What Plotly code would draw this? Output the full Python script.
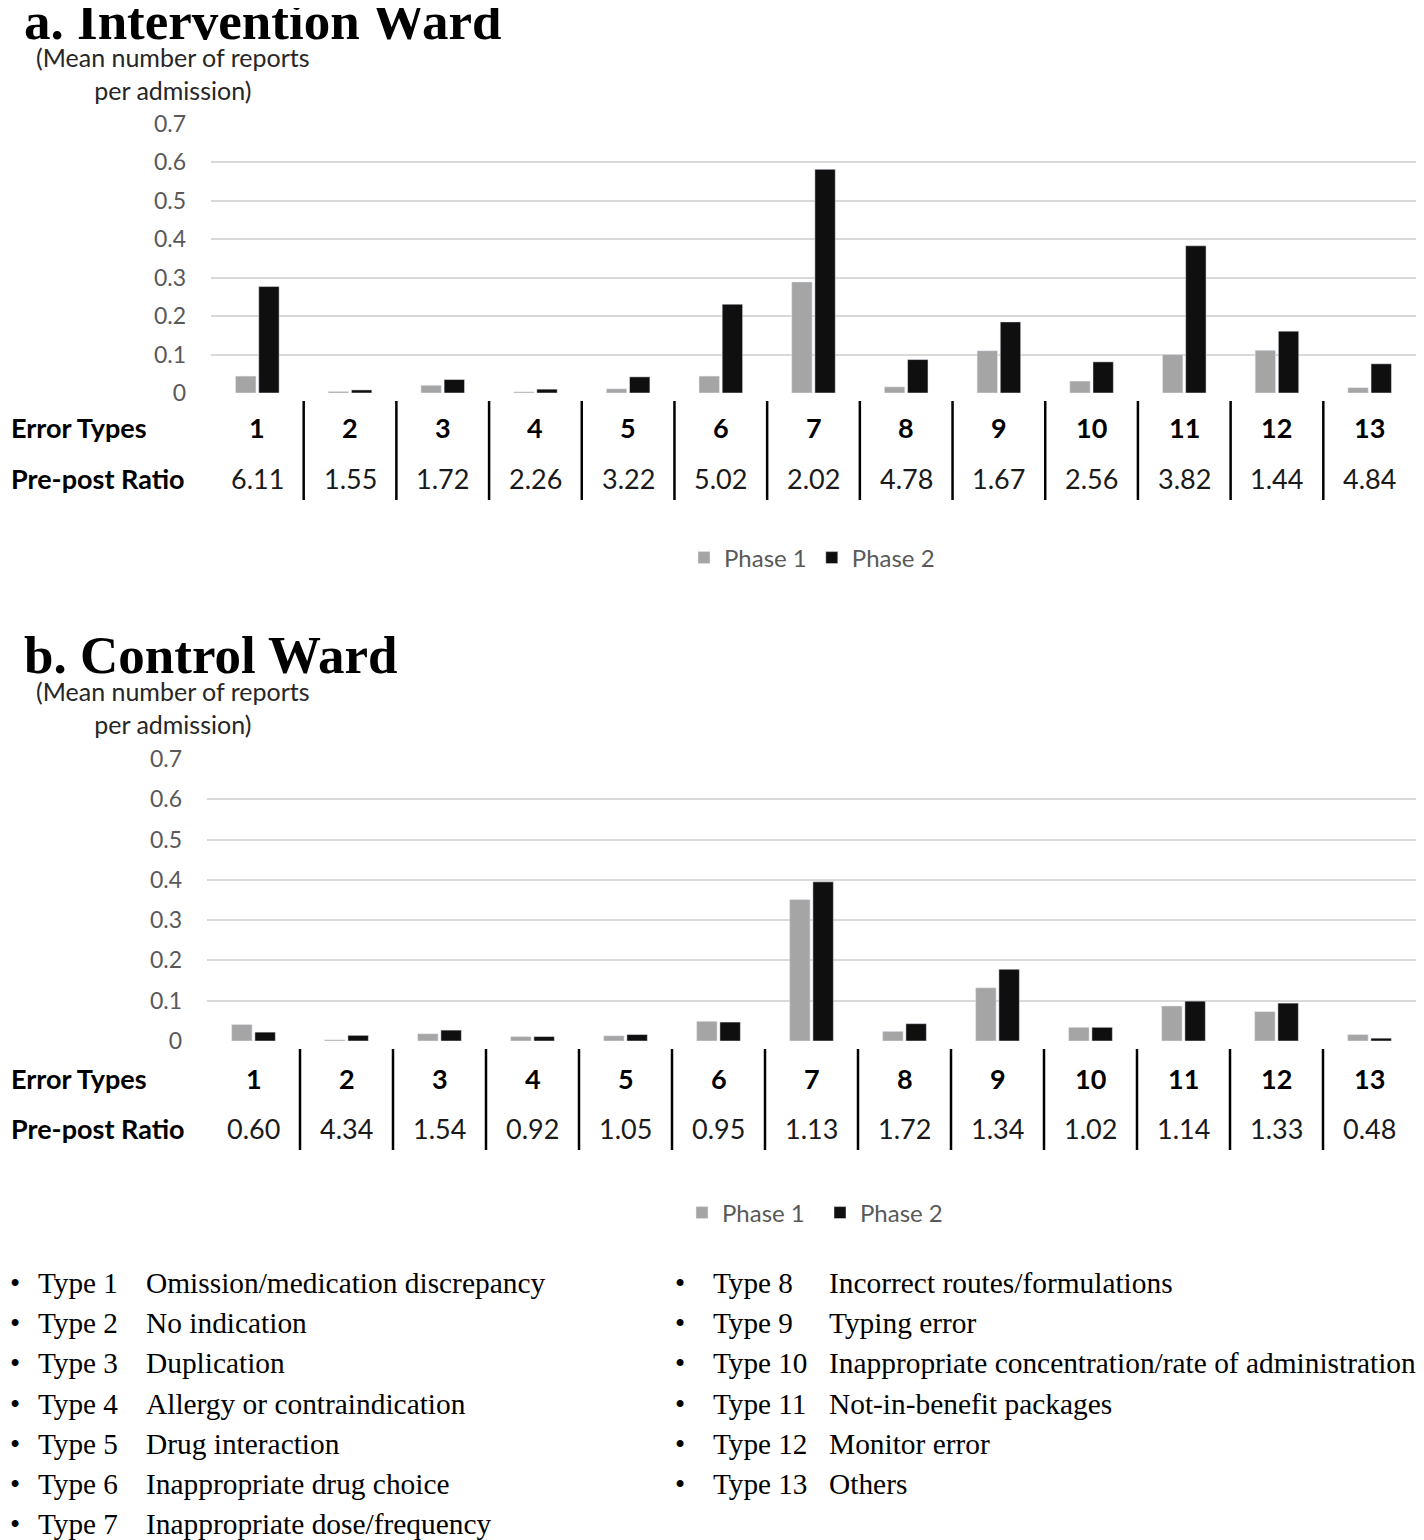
import plotly.graph_objects as go

# ---------------- data ----------------
types = list(range(1, 14))
type_labels = [str(t) for t in types]

int_phase1 = [0.044, 0.004, 0.020, 0.003, 0.011, 0.044, 0.289, 0.016, 0.110, 0.031, 0.100, 0.111, 0.014]
int_phase2 = [0.277, 0.008, 0.035, 0.010, 0.042, 0.231, 0.582, 0.087, 0.185, 0.081, 0.383, 0.161, 0.076]
int_ratio = ["6.11", "1.55", "1.72", "2.26", "3.22", "5.02", "2.02", "4.78", "1.67", "2.56", "3.82", "1.44", "4.84"]

ctl_phase1 = [0.041, 0.003, 0.018, 0.011, 0.013, 0.049, 0.351, 0.024, 0.132, 0.034, 0.087, 0.073, 0.016]
ctl_phase2 = [0.022, 0.014, 0.027, 0.011, 0.016, 0.047, 0.395, 0.043, 0.178, 0.034, 0.099, 0.094, 0.007]
ctl_ratio = ["0.60", "4.34", "1.54", "0.92", "1.05", "0.95", "1.13", "1.72", "1.34", "1.02", "1.14", "1.33", "0.48"]

y_ticks = [0, 0.1, 0.2, 0.3, 0.4, 0.5, 0.6, 0.7]
y_tick_labels = ["0", "0.1", "0.2", "0.3", "0.4", "0.5", "0.6", "0.7"]

type_desc = [
    "Omission/medication discrepancy",
    "No indication",
    "Duplication",
    "Allergy or contraindication",
    "Drug interaction",
    "Inappropriate drug choice",
    "Inappropriate dose/frequency",
    "Incorrect routes/formulations",
    "Typing error",
    "Inappropriate concentration/rate of administration",
    "Not-in-benefit packages",
    "Monitor error",
    "Others",
]

# ---------------- layout helpers ----------------
W, H = 1424, 1540
OFF_X, OFF_Y = 8, 8   # page body margin compensation
def px(x):
    return (x - OFF_X) / W
def py(y):
    return 1 - (y - OFF_Y) / H

SANS = "Lato, 'Open Sans', sans-serif"
SERIF = "'Liberation Serif', 'Times New Roman', serif"
C1 = "#a5a5a5"
C2 = "#0f0f0f"
GRAY = "#595959"

fig = go.Figure()

fig.add_trace(go.Bar(x=types, y=int_phase1, name="Phase 1", marker_color=C1,
                     xaxis="x", yaxis="y", legend="legend"))
fig.add_trace(go.Bar(x=types, y=int_phase2, name="Phase 2", marker_color=C2,
                     xaxis="x", yaxis="y", legend="legend"))
fig.add_trace(go.Bar(x=types, y=ctl_phase1, name="Phase 1", marker_color=C1,
                     xaxis="x2", yaxis="y2", legend="legend2"))
fig.add_trace(go.Bar(x=types, y=ctl_phase2, name="Phase 2", marker_color=C2,
                     xaxis="x2", yaxis="y2", legend="legend2"))

xax = dict(range=[0.5, 13.5], showticklabels=False, showgrid=False, zeroline=False,
           showline=False, ticks="", fixedrange=True)
yax = dict(range=[0, 0.7], tickvals=y_ticks, ticktext=y_tick_labels, showgrid=True,
           gridcolor="#d9d9d9", gridwidth=2, zeroline=False, showline=False,
           tickfont=dict(family=SANS, size=23, color=GRAY), ticks="",
           ticklabelstandoff=24, fixedrange=True)

fig.update_layout(
    width=W, height=H,
    margin=dict(l=0, r=0, t=0, b=0, autoexpand=False),
    paper_bgcolor="white", plot_bgcolor="white",
    barmode="group", bargap=0.5, bargroupgap=0.12,
    xaxis=dict(domain=[px(211), px(1416)], anchor="y", **xax),
    yaxis=dict(domain=[py(393), py(124)], anchor="x", **yax),
    xaxis2=dict(domain=[px(207), px(1416)], anchor="y2", **xax),
    yaxis2=dict(domain=[py(1041), py(759)], anchor="x2", **yax),
    legend=dict(orientation="h", x=px(812), xanchor="center", y=py(558), yanchor="middle",
                font=dict(family=SANS, size=24, color=GRAY), bgcolor="rgba(0,0,0,0)"),
    legend2=dict(orientation="h", x=px(820), xanchor="center", y=py(1213), yanchor="middle",
                 entrywidth=93, entrywidthmode="pixels",
                 font=dict(family=SANS, size=24, color=GRAY), bgcolor="rgba(0,0,0,0)"),
    showlegend=True,
)

annotations = []
shapes = []

def add_text(text, x, y, size, family, color="black", xanchor="left", xref="paper", bold=False):
    if bold:
        text = "<b>" + text + "</b>"
    annotations.append(dict(text=text, x=x if xref != "paper" else px(x), y=py(y),
                            xref=xref, yref="paper", xanchor=xanchor, yanchor="middle",
                            showarrow=False, font=dict(family=family, size=size, color=color)))

panels = [
    dict(title="a. Intervention Ward", title_y=21, lab_y=73, xref="x",
         row1=427, row2=478, div=(401, 500), ratios=int_ratio),
    dict(title="b. Control Ward", title_y=655, lab_y=707, xref="x2",
         row1=1078, row2=1128, div=(1049, 1150), ratios=ctl_ratio),
]

for p in panels:
    add_text(p["title"], 22, p["title_y"], 53, SERIF, bold=True)
    add_text("(Mean number of reports<br>per admission)", 173, p["lab_y"], 25, SANS,
             color="#262626", xanchor="center")
    add_text("Error Types", 9, p["row1"], 27, SANS, bold=True)
    add_text("Pre-post Ratio", 9, p["row2"], 27, SANS, bold=True)
    for t, lab, r in zip(types, type_labels, p["ratios"]):
        add_text(lab, t, p["row1"], 27, SANS, xanchor="center", xref=p["xref"], bold=True)
        add_text(r, t, p["row2"], 27, SANS, color="#1a1a1a", xanchor="center", xref=p["xref"])
    for t in types[:-1]:
        shapes.append(dict(type="line", xref=p["xref"], yref="paper", x0=t + 0.5, x1=t + 0.5,
                           y0=py(p["div"][0]), y1=py(p["div"][1]),
                           line=dict(color="black", width=2.5)))

# bottom list
for i, (t, d) in enumerate(zip(types, type_desc)):
    if i < 7:
        bx, tx, dx, row = 8, 36, 144, i
    else:
        bx, tx, dx, row = 673, 711, 827, i - 7
    yy = 1283 + 40.2 * row
    add_text("•", bx, yy, 29, SERIF)
    add_text("Type " + str(t), tx, yy, 29.2, SERIF)
    add_text(d, dx, yy, 29.4, SERIF)

fig.update_layout(annotations=annotations, shapes=shapes)

fig.write_html("out.html")
